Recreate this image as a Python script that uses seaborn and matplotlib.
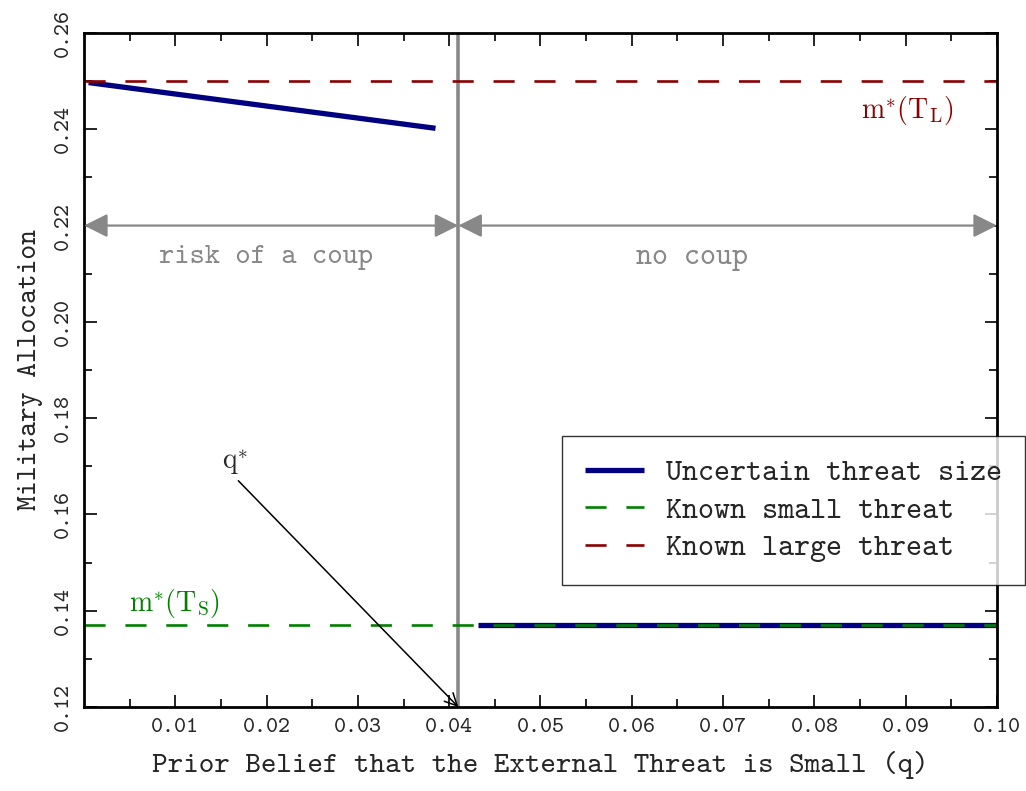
import matplotlib
matplotlib.use("Agg")
import matplotlib.pyplot as plt
import seaborn as sns
import pandas as pd
import numpy as np

# ---- data ----
unc_left_q = [0.0005, 0.0385]
unc_left_m = [0.2497, 0.2402]
unc_right_q = [0.0431, 0.1000]
unc_right_m = [0.1370, 0.1370]
small_q = [0.0, 0.10]
small_m = [0.1370, 0.1370]
large_q = [0.0, 0.10]
large_m = [0.2500, 0.2500]
q_star = 0.041
arrow_y = 0.22

xticks = [0.01, 0.02, 0.03, 0.04, 0.05, 0.06, 0.07, 0.08, 0.09, 0.10]
yticks = [0.12, 0.14, 0.16, 0.18, 0.20, 0.22, 0.24, 0.26]

sns.set_theme(style="white")
plt.rcParams['font.family'] = ['cmtt10', 'DejaVu Sans Mono']
plt.rcParams['mathtext.fontset'] = 'cm'
plt.rcParams['axes.unicode_minus'] = False

fig = plt.figure(figsize=(10.26, 7.91), dpi=100)
ax = fig.add_axes([0.0819, 0.1062, 0.8898, 0.8521])

blue = '#000080'
green = '#008000'
red = '#8B0000'
gray = '#888888'

df_ul = pd.DataFrame({'q': unc_left_q, 'm': unc_left_m})
df_ur = pd.DataFrame({'q': unc_right_q, 'm': unc_right_m})
df_s = pd.DataFrame({'q': small_q, 'm': small_m})
df_l = pd.DataFrame({'q': large_q, 'm': large_m})

sns.lineplot(data=df_ul, x='q', y='m', ax=ax, color=blue, lw=3.8, label='Uncertain threat size', solid_capstyle='butt')
sns.lineplot(data=df_ur, x='q', y='m', ax=ax, color=blue, lw=3.8, solid_capstyle='butt')
sns.lineplot(data=df_s, x='q', y='m', ax=ax, color=green, lw=1.9, label='Known small threat')
sns.lineplot(data=df_l, x='q', y='m', ax=ax, color=red, lw=1.9, label='Known large threat')
for ln in ax.lines[2:]:
    ln.set_dashes((8, 7.5))

ax.axvline(q_star, color=gray, lw=2.6, zorder=1)

# double arrows
ax.annotate('', xy=(0.0, arrow_y), xytext=(q_star, arrow_y),
            arrowprops=dict(arrowstyle='<|-|>', color=gray, lw=1.6, mutation_scale=36, shrinkA=0, shrinkB=0))
ax.annotate('', xy=(q_star, arrow_y), xytext=(0.10, arrow_y),
            arrowprops=dict(arrowstyle='<|-|>', color=gray, lw=1.6, mutation_scale=36, shrinkA=0, shrinkB=0))
ax.text(0.0199, 0.2133, 'risk of a coup', color=gray, fontsize=21, ha='center', va='center')
ax.text(0.0666, 0.2133, 'no coup', color=gray, fontsize=22, ha='center', va='center')

ax.text(0.0902, 0.2440, r'$\mathrm{m^{*}(T_L)}$', color=red, fontsize=20, ha='center', va='center')
ax.text(0.0099, 0.1415, r'$\mathrm{m^{*}(T_S)}$', color=green, fontsize=20, ha='center', va='center')

ax.text(0.0165, 0.1708, r'$\mathrm{q^{*}}$', fontsize=20, ha='center', va='center')
ax.annotate('', xy=(q_star, 0.12), xytext=(0.0169, 0.1670),
            arrowprops=dict(arrowstyle='->', color='black', lw=1.1, mutation_scale=22, shrinkA=0, shrinkB=0))

ax.set_xlim(0, 0.10)
ax.set_ylim(0.12, 0.26)
ax.set_xticks(xticks)
ax.set_xticklabels([f'{v:.2f}' for v in xticks])
ax.set_yticks(yticks)
ax.set_yticklabels([f'{v:.2f}' for v in yticks], rotation=90, va='center')
ax.set_xticks(np.arange(0.005, 0.1, 0.01), minor=True)
ax.set_yticks(np.arange(0.13, 0.26, 0.02), minor=True)
ax.tick_params(which='both', direction='in', top=True, right=True, bottom=True, left=True,
               color='black', labelsize=16.5, pad=8)
ax.tick_params(which='major', length=9, width=1.2)
ax.tick_params(which='minor', length=6, width=1.2)
for s in ax.spines.values():
    s.set_color('black')
    s.set_linewidth(2.0)

ax.set_xlabel('Prior Belief that the External Threat is Small (q)', fontsize=21.3, labelpad=10)
ax.set_ylabel('Military Allocation', fontsize=20.3, labelpad=8)

leg = ax.legend(loc='upper left', bbox_to_anchor=(0.5235, 0.402), borderaxespad=0,
                fontsize=22, frameon=True,
                fancybox=False, edgecolor='black', borderpad=0.75, handlelength=1.95,
                labelspacing=0.3, handletextpad=0.72)
leg.get_frame().set_linewidth(1.0)
leg.set_zorder(5)

fig.savefig('out.png', dpi=100)
